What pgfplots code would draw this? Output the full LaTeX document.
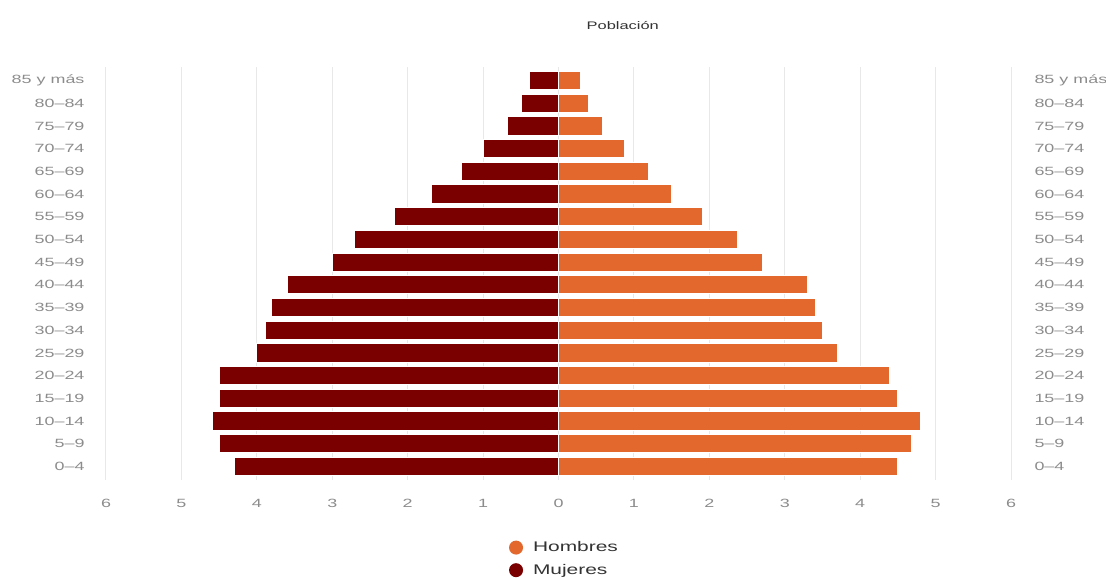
\documentclass[border=0pt]{standalone}
\usepackage{fontspec}
\setmainfont{Liberation Sans}[FakeStretch=1.5]
\usepackage{pgfplots}
\usepackage{pgfplotstable}
\pgfplotsset{compat=1.18}

\definecolor{hombres}{RGB}{226,104,46}
\definecolor{mujeres}{RGB}{122,0,0}
\definecolor{ticktxt}{RGB}{140,140,140}
\definecolor{gridc}{RGB}{232,232,232}
\definecolor{legtxt}{RGB}{51,51,51}

% Porcentaje de población por grupo de edad (mujeres en negativo)
\pgfplotstableread{
idx hombres mujeres
0   4.49  -4.29
1   4.68  -4.50
2   4.80  -4.59
3   4.49  -4.49
4   4.39  -4.49
5   3.70  -4.00
6   3.50  -3.89
7   3.41  -3.81
8   3.30  -3.59
9   2.70  -3.00
10  2.38  -2.70
11  1.91  -2.18
12  1.50  -1.68
13  1.19  -1.28
14  0.88  -0.99
15  0.59  -0.67
16  0.40  -0.49
17  0.29  -0.39
}\piramide

\def\grupos{0--4,5--9,10--14,15--19,20--24,25--29,30--34,35--39,40--44,45--49,50--54,55--59,60--64,65--69,70--74,75--79,80--84,85 y más}

\pgfplotsset{
  base/.style={
    scale only axis, width=905bp, height=413bp,
    at={(0,0)}, anchor=south west,
    xmin=-6, xmax=6, ymin=-0.6, ymax=17.6,
    ytick={0,...,17},
    major tick length=0pt,
    axis line style={draw=none},
    tick label style={font=\fontsize{12}{14}\selectfont, text=ticktxt},
    /pgf/number format/assume math mode=true,
  }
}

\begin{document}
\begin{tikzpicture}
\path[use as bounding box] (-106bp,-98bp) rectangle (1000bp,480bp);

\begin{axis}[
  base,
  xbar, bar width=0.8, bar shift=0pt,
  xtick={-6,...,6},
  xticklabels={6,5,4,3,2,1,0,1,2,3,4,5,6},
  xticklabel style={yshift=-16bp},
  yticklabels/.expanded={\grupos},
  yticklabel style={xshift=-18bp},
  xmajorgrids, grid style={gridc, line width=1bp},
  title={Población},
  title style={at={(0.571,1.0871)}, anchor=center,
    font=\fontsize{11}{13}\selectfont, text=legtxt},
  legend style={at={(axis description cs:0.5066,-0.1395)}, anchor=north,
    draw=none, fill=none, font=\fontsize{14}{16}\selectfont, text=legtxt,
    row sep=7bp, column sep=8bp, cells={anchor=west}},
  legend cell align=left,
  legend image code/.code={\fill[#1, draw=none] (3bp,0bp) circle (7bp);},
]
\addplot[fill=hombres, draw=white, line width=1bp] table[x=hombres, y=idx]{\piramide};
\addlegendentry{Hombres}
\addplot[fill=mujeres, draw=white, line width=1bp] table[x=mujeres, y=idx]{\piramide};
\addlegendentry{Mujeres}
\end{axis}

\begin{axis}[
  base,
  hide x axis,
  yticklabel pos=right,
  yticklabels/.expanded={\grupos},
  yticklabel style={anchor=west, xshift=20bp},
]
\addplot[draw=none] coordinates {(0,0)};
\end{axis}
\end{tikzpicture}
\end{document}
